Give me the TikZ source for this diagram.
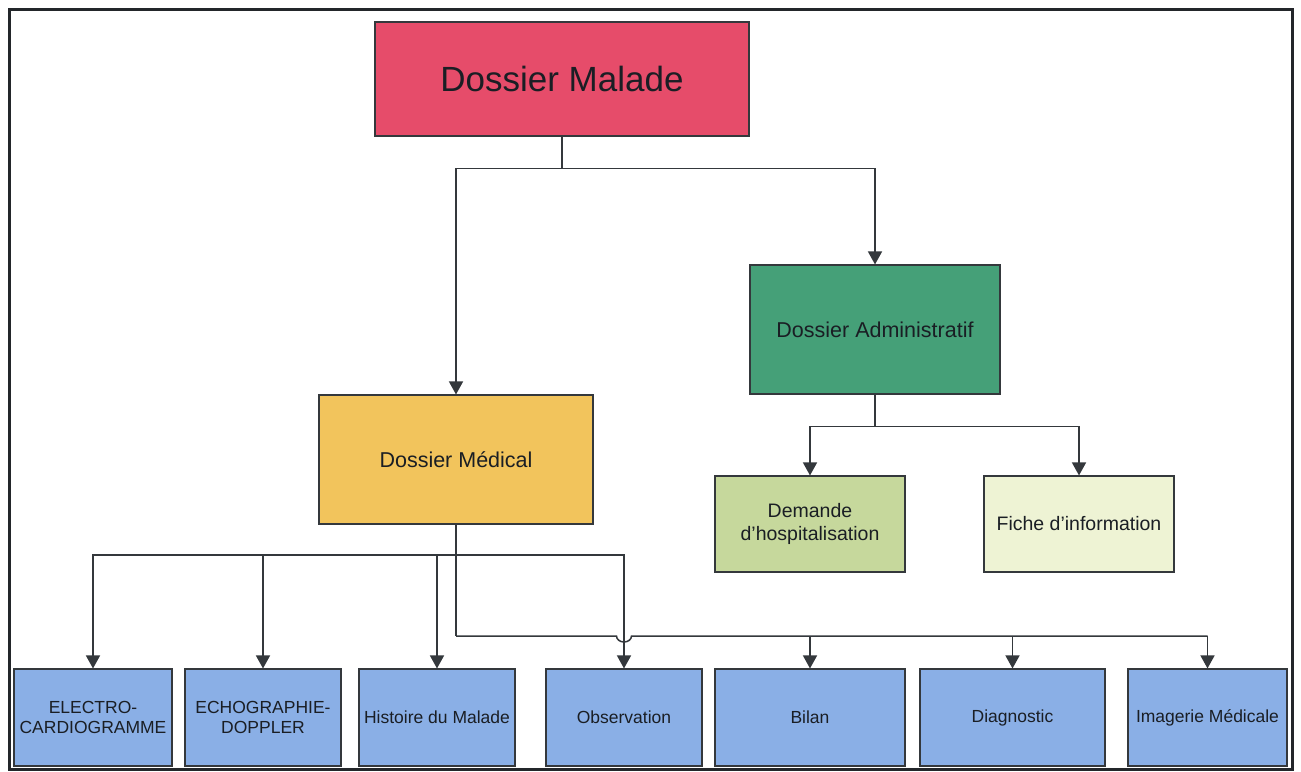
\documentclass[tikz,border=0pt]{standalone}
\usepackage{fontspec}
\setmainfont{Liberation Sans}
\usetikzlibrary{arrows.meta,calc}

\definecolor{frameC}{HTML}{23262A}
\definecolor{lineC}{HTML}{34383C}
\definecolor{textC}{HTML}{1A1E24}
\definecolor{maladeC}{HTML}{E64C6A}
\definecolor{medicalC}{HTML}{F2C45C}
\definecolor{adminC}{HTML}{45A078}
\definecolor{demandeC}{HTML}{C6D89C}
\definecolor{ficheC}{HTML}{EEF3D4}
\definecolor{leafC}{HTML}{8AAFE6}

\tikzset{
  box/.style={draw=lineC, line width=1.1pt, rectangle, inner sep=0pt,
    text=textC, align=center},
  leaf/.style={box, fill=leafC, minimum height=97pt,
    font=\fontsize{17.5}{20}\selectfont},
  link/.style={draw=lineC, line width=1.5pt},
  arrow/.style={link, -{Triangle[width=14pt,length=13pt]}},
}

\begin{document}
\begin{tikzpicture}[x=1pt,y=-1pt]
\useasboundingbox (0,0) rectangle (1301,771);
\fill[white] (0,0) rectangle (1301,771);

% outer frame
\draw[frameC, line width=3pt] (9,9) rectangle (1292,769);

% top level
\node[box, fill=maladeC, minimum width=374pt, minimum height=114pt,
      font=\fontsize{35}{40}\selectfont] (malade) at (562,79) {Dossier Malade};

% second level
\node[box, fill=medicalC, minimum width=274pt, minimum height=129pt,
      font=\fontsize{21.5}{25}\selectfont] (medical) at (456,459.5) {Dossier Médical};
\node[box, fill=adminC, minimum width=250pt, minimum height=129pt,
      font=\fontsize{21.5}{25}\selectfont] (admin) at (875,329.5) {Dossier Administratif};

% administrative documents
\node[box, fill=demandeC, minimum width=190pt, minimum height=96pt,
      font=\fontsize{19.5}{23}\selectfont] (demande) at (810,524) {Demande\\d’hospitalisation};
\node[box, fill=ficheC, minimum width=190pt, minimum height=96pt,
      font=\fontsize{19.5}{23}\selectfont] (fiche) at (1079,524) {Fiche d’information};

% medical documents
\node[leaf, minimum width=158pt] (ecg)  at (93,717.5)   {ELECTRO-\\CARDIOGRAMME};
\node[leaf, minimum width=156pt] (echo) at (263,717.5)  {ECHOGRAPHIE-\\DOPPLER};
\node[leaf, minimum width=156pt] (hist) at (437,717.5)  {Histoire du Malade};
\node[leaf, minimum width=156pt] (obs)  at (624,717.5)  {Observation};
\node[leaf, minimum width=190pt] (bilan) at (810,717.5) {Bilan};
\node[leaf, minimum width=185pt] (diag) at (1012.5,717.5) {Diagnostic};
\node[leaf, minimum width=159pt] (imag) at (1207.5,717.5) {Imagerie Médicale};

% junction points
\coordinate (j1) at ($(malade.south)+(0,32)$);
\coordinate (j2) at ($(admin.south)+(0,32)$);
\coordinate (busA) at (medical.south |- 0,555);
\coordinate (busB) at (medical.south |- 0,636);
\coordinate (hopL) at ($(obs.north |- busB)+(-7.5,0)$);

% Dossier Malade -> second level
\draw[link] (malade.south) -- (j1);
\draw[arrow] (j1) -| (medical.north);
\draw[arrow] (j1) -| (admin.north);

% Dossier Administratif -> documents
\draw[link] (admin.south) -- (j2);
\draw[arrow] (j2) -| (demande.north);
\draw[arrow] (j2) -| (fiche.north);

% Dossier Médical -> upper bus
\draw[link] (medical.south) -- (busB);
\draw[arrow] (busA) -| (ecg.north);
\draw[arrow] (busA) -| (echo.north);
\draw[arrow] (busA) -| (hist.north);
\draw[arrow] (busA) -| (obs.north);

% Dossier Médical -> lower bus, hopping over the Observation drop
\draw[link] (busB) -- (hopL)
  arc[start angle=180, end angle=360, x radius=7.5pt, y radius=6pt]
  -- (imag.north |- busB);
\draw[arrow] (bilan.north |- busB) -- (bilan.north);
\draw[arrow] (diag.north |- busB) -- (diag.north);
\draw[arrow] (imag.north |- busB) -- (imag.north);
\end{tikzpicture}
\end{document}
